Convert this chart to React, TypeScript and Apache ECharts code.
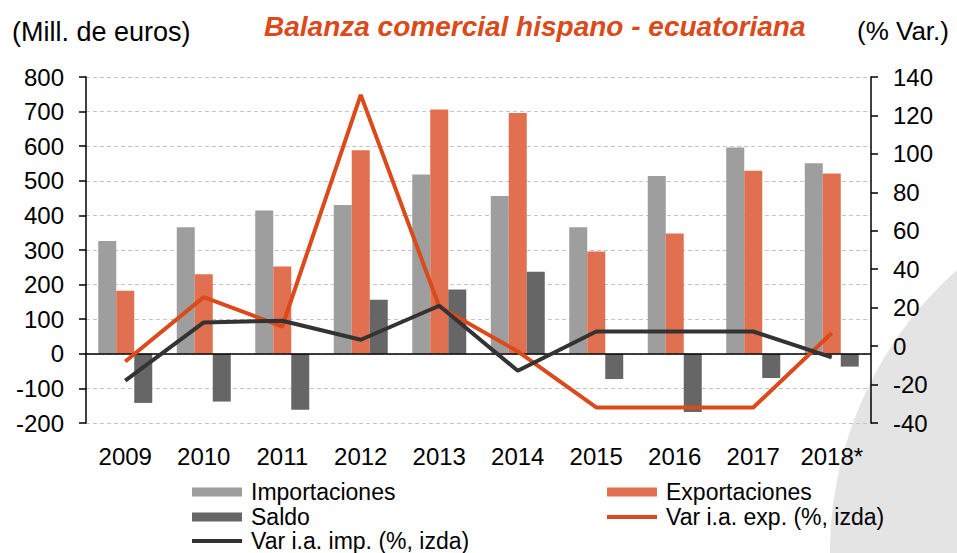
import React, { useEffect, useRef } from "react";
import * as echarts from "echarts";

const years = ["2009", "2010", "2011", "2012", "2013", "2014", "2015", "2016", "2017", "2018*"];
const importaciones = [326, 366, 414, 430, 518, 456, 366, 514, 596, 551];
const exportaciones = [182, 230, 252, 588, 706, 696, 296, 348, 529, 521];
const saldo = [-142, -138, -162, 156, 186, 237, -73, -168, -70, -37];
const varExp = [-8, 25.5, 10.2, 130.7, 20.5, -2.8, -31.9, -31.9, -31.9, 6.8];
const varImp = [-18, 12.3, 13.2, 3.3, 21, -12.8, 7.6, 7.6, 7.6, -5.9];

const FONT = "'Liberation Sans', Arial, sans-serif";
const C_IMP = "#9e9e9e";
const C_EXP = "#e07050";
const C_SAL = "#666666";
const C_LEXP = "#da4a1a";
const C_LIMP = "#333333";

function legend(name: string, left: number, centerY: number, line: boolean) {
  return {
    data: [name],
    left,
    top: centerY - 12,
    padding: 0,
    icon: "rect",
    itemWidth: 50,
    itemHeight: line ? 4 : 9,
    selectedMode: false,
    textStyle: {
      fontFamily: FONT,
      fontSize: 23,
      color: "#000",
      lineHeight: 24,
      padding: [0, 0, 0, 4],
    },
  };
}

export default function App() {
  const ref = useRef<HTMLDivElement>(null);
  useEffect(() => {
    if (!ref.current) return;
    const chart = echarts.init(ref.current, null, { renderer: "svg" });
    chart.setOption({
      animation: false,
      backgroundColor: "#ffffff",
      textStyle: { fontFamily: FONT },
      graphic: [
        {
          type: "circle",
          z: -10,
          silent: true,
          shape: { cx: 1209, cy: 553, r: 379 },
          style: { fill: "#e4e4e4" },
        },
        {
          type: "text",
          left: 12,
          top: 18,
          style: { text: "(Mill. de euros)", font: `27px ${FONT}`, fill: "#000" },
        },
        {
          type: "text",
          left: 857,
          top: 18,
          style: { text: "(% Var.)", font: `26px ${FONT}`, fill: "#000" },
        },
        {
          type: "text",
          left: 264,
          top: 12,
          style: {
            text: "Balanza comercial hispano - ecuatoriana",
            font: `italic bold 28px ${FONT}`,
            fill: C_LEXP,
          },
        },
      ],
      legend: [
        legend("Importaciones", 192, 492, false),
        legend("Saldo", 192, 517, false),
        legend("Var i.a. imp. (%, izda)", 192, 541, true),
        legend("Exportaciones", 607, 492, false),
        legend("Var i.a. exp. (%, izda)", 607, 517, true),
      ],
      grid: { left: 86, right: 86, top: 77, bottom: 130, containLabel: false },
      xAxis: {
        type: "category",
        data: years,
        axisLine: { show: false, onZero: false },
        axisTick: { show: false },
        axisLabel: { fontFamily: FONT, fontSize: 24, color: "#000", margin: 21, interval: 0 },
      },
      yAxis: [
        {
          type: "value",
          min: -200,
          max: 800,
          interval: 100,
          axisLine: { show: true, lineStyle: { color: "#000", width: 1.5 } },
          axisTick: { show: true, length: 7, lineStyle: { color: "#000", width: 1.5 } },
          axisLabel: { fontFamily: FONT, fontSize: 24, color: "#000", margin: 22 },
          splitLine: { show: true, lineStyle: { color: "#c4c4c4", type: [4, 3], width: 1 } },
        },
        {
          type: "value",
          min: -40,
          max: 140,
          interval: 20,
          position: "right",
          axisLine: { show: true, lineStyle: { color: "#000", width: 1.5 } },
          axisTick: { show: true, length: 7, lineStyle: { color: "#000", width: 1.5 } },
          axisLabel: { fontFamily: FONT, fontSize: 24, color: "#000", margin: 22 },
          splitLine: { show: false },
        },
      ],
      series: [
        {
          name: "Importaciones",
          type: "bar",
          data: importaciones,
          barWidth: 18,
          barGap: "0%",
          itemStyle: { color: C_IMP },
          markLine: {
            silent: true,
            symbol: "none",
            label: { show: false },
            lineStyle: { color: "#000", type: "solid", width: 1.5 },
            data: [{ yAxis: 0 }],
            z: 5,
          },
        },
        {
          name: "Exportaciones",
          type: "bar",
          data: exportaciones,
          barWidth: 18,
          barGap: "0%",
          itemStyle: { color: C_EXP },
        },
        {
          name: "Saldo",
          type: "bar",
          data: saldo,
          barWidth: 18,
          barGap: "0%",
          itemStyle: { color: C_SAL },
        },
        {
          name: "Var i.a. exp. (%, izda)",
          type: "line",
          yAxisIndex: 1,
          data: varExp,
          symbol: "none",
          itemStyle: { color: C_LEXP },
          lineStyle: { color: C_LEXP, width: 4 },
          z: 6,
        },
        {
          name: "Var i.a. imp. (%, izda)",
          type: "line",
          yAxisIndex: 1,
          data: varImp,
          symbol: "none",
          itemStyle: { color: C_LIMP },
          lineStyle: { color: C_LIMP, width: 4 },
          z: 7,
        },
      ],
    });
    return () => chart.dispose();
  }, []);
  return (
    <div
      ref={ref}
      style={{ position: "fixed", left: 0, top: 0, width: 957, height: 553 }}
    />
  );
}
